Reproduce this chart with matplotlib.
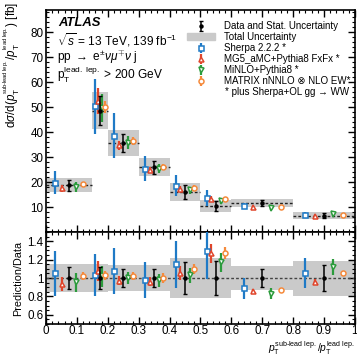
import numpy as np
import matplotlib
matplotlib.use('Agg')
import matplotlib.pyplot as plt
from matplotlib.patches import Patch
from matplotlib.ticker import MultipleLocator, FixedLocator, FixedFormatter

plt.rcParams['font.family'] = ['Liberation Sans', 'DejaVu Sans']
plt.rcParams['mathtext.fontset'] = 'custom'
plt.rcParams['mathtext.rm'] = 'Liberation Sans'
plt.rcParams['mathtext.it'] = 'Liberation Sans:italic'
plt.rcParams['mathtext.bf'] = 'Liberation Sans:bold'

# bin edges of pT(sub-lead)/pT(lead)
edges = [0.0, 0.15, 0.2, 0.3, 0.4, 0.5, 0.6, 0.8, 1.0]

# measured cross section [fb], stat. and total relative uncertainty
data = [18.8, 48.7, 35.8, 26.0, 16.2, 10.5, 11.7, 6.6]
stat_rel = [0.12, 0.12, 0.10, 0.10, 0.17, 0.18, 0.10, 0.14]
tot_rel = [0.15, 0.15, 0.145, 0.14, 0.22, 0.22, 0.13, 0.19]

# prediction / data and relative prediction uncertainty
sherpa_ratio = [1.05, 1.035, 1.08, 0.975, 1.15, 1.29, 0.89, 1.055]
sherpa_err = [0.23, 0.22, 0.23, 0.20, 0.22, 0.23, 0.13, 0.15]
mg5_ratio = [0.935, 1.075, 0.97, 0.96, 1.055, 1.27, 0.86, 0.96]
mg5_err = [0.08, 0.10, 0.05, 0.05, 0.07, 0.08, 0.03, 0.03]
minlo_ratio = [0.955, 1.02, 1.0, 0.975, 1.03, 1.17, 0.83, 1.12]
minlo_err = [0.11, 0.11, 0.07, 0.07, 0.08, 0.09, 0.07, 0.08]
matrix_ratio = [1.02, 1.03, 1.02, 1.0, 1.1, 1.27, 0.87, 1.05]
matrix_err = [0.04, 0.05, 0.04, 0.05, 0.05, 0.05, 0.03, 0.02]

edges = np.array(edges)
lo, wid = edges[:-1], np.diff(edges)
data = np.array(data)

preds = [
    ('Sherpa 2.2.2 *', sherpa_ratio, sherpa_err, 's', '#1f7ac6', 0.2),
    ('MG5_aMC+Pythia8 FxFx *', mg5_ratio, mg5_err, '^', '#e0452b', 0.35),
    ('MiNLO+Pythia8 *', minlo_ratio, minlo_err, 'v', '#2b9b3c', 0.65),
    ('MATRIX nNNLO \u2297 NLO EW*', matrix_ratio, matrix_err, 'o', '#f58a3c', 0.8),
]

fig = plt.figure(figsize=(3.57, 3.57), dpi=100)
ax = fig.add_axes([0.129, 0.35, 0.865, 0.622])
rx = fig.add_axes([0.129, 0.0924, 0.865, 0.2576], sharex=ax)

gray = '#cacaca'
fs = 8.4
lfs = 7.0

# total uncertainty bands
ax.bar(lo, 2 * data * np.array(tot_rel), width=wid, bottom=data * (1 - np.array(tot_rel)),
       align='edge', color=gray, lw=0, zorder=1)
rx.bar(lo, 2 * np.array(tot_rel), width=wid, bottom=1 - np.array(tot_rel),
       align='edge', color=gray, lw=0, zorder=1)
ax.hlines(data, lo, edges[1:], colors='#222222', linestyles=(0, (2, 1.5)), lw=1, zorder=2)
rx.axhline(1, color='#444444', ls=(0, (2, 1.5)), lw=1, zorder=2)

xc = lo + 0.5 * wid
hdata = ax.errorbar(xc, data, yerr=data * np.array(stat_rel), fmt='o', ms=2.2, color='k',
                    elinewidth=1.1, capsize=1.5, capthick=1.0, zorder=5)
rx.errorbar(xc, np.ones_like(xc), yerr=stat_rel, fmt='o', ms=2.2, color='k',
            elinewidth=1.1, capsize=1.5, capthick=1.0, zorder=5)

handles = [hdata, Patch(color=gray)]
labels = ['Data and Stat. Uncertainty', 'Total Uncertainty']
for name, r, e, m, c, f in preds:
    r = np.array(r)
    e = np.array(e)
    x = lo + f * wid
    h = ax.errorbar(x, data * r, yerr=data * r * e, fmt=m, ms=3.6, mfc='white', mec=c,
                    mew=1.1, color=c, elinewidth=1.6, zorder=4)
    rx.errorbar(x, r, yerr=r * e, fmt=m, ms=3.6, mfc='white', mec=c,
                mew=1.1, color=c, elinewidth=1.6, zorder=4)
    handles.append(h)
    labels.append(name)

ax.legend(handles, labels, loc='upper left', bbox_to_anchor=(0.456, 0.95),
          frameon=False, fontsize=lfs, handlelength=2.9, handletextpad=0.9,
          labelspacing=0.11, handleheight=0.7, borderaxespad=0, borderpad=0)
ax.text(0.58, 0.632, '* plus Sherpa+OL gg \u2192 WW', transform=ax.transAxes,
        fontsize=lfs, va='center', ha='left')

ax.text(0.039, 0.941, 'ATLAS', transform=ax.transAxes, fontsize=9.4,
        fontweight='bold', fontstyle='italic', va='center')
ax.text(0.037, 0.865, r'$\sqrt{s}$ = 13 TeV, 139 fb$^{-1}$', transform=ax.transAxes,
        fontsize=8.6, va='center')
ax.text(0.037, 0.786, r'pp $\rightarrow$ e$^{\pm}\nu\mu^{\mp}\nu$ j', transform=ax.transAxes,
        fontsize=8.6, va='center')
ax.text(0.037, 0.708, r'p$_{\mathrm{T}}^{\mathrm{lead.\ lep.}}$ > 200 GeV',
        transform=ax.transAxes, fontsize=8.6, va='center')

ax.set_xlim(0, 1)
ax.set_ylim(0, 89)
rx.set_ylim(0.5, 1.5)

ptsub = r'\it{p}_{\mathrm{T}}^{{}^{\mathrm{sub\text{-}lead\ lep.}}}'
ptlead = r'\it{p}_{\mathrm{T}}^{{}^{\mathrm{lead\ lep.}}}'
ax.set_ylabel(r'd$\sigma$/d($' + ptsub + '/' + ptlead + '$) [fb]', fontsize=8.4, loc='top')
ax.yaxis.set_label_coords(-0.078, 1.036)
rx.set_ylabel('Prediction/Data', fontsize=7.8)
rx.yaxis.set_label_coords(-0.075, 0.5)
rx.set_xlabel(r'$\it{p}_{\mathrm{T}}^{\mathrm{sub\text{-}lead\ lep.}}/\it{p}_{\mathrm{T}}^{\mathrm{lead\ lep.}}$',
              fontsize=7.4, loc='right')
rx.xaxis.set_label_coords(1.0, -0.165)

ax.yaxis.set_major_locator(FixedLocator([10, 20, 30, 40, 50, 60, 70, 80]))
ax.yaxis.set_minor_locator(MultipleLocator(2))
rx.yaxis.set_major_locator(FixedLocator([0.6, 0.8, 1.0, 1.2, 1.4]))
rx.yaxis.set_major_formatter(FixedFormatter(['0.6', '0.8', '1', '1.2', '1.4']))
rx.yaxis.set_minor_locator(MultipleLocator(0.05))
xt = np.round(np.arange(0, 1.01, 0.1), 1)
rx.xaxis.set_major_locator(FixedLocator(xt))
rx.xaxis.set_major_formatter(FixedFormatter(['0'] + ['%.1f' % v for v in xt[1:-1]] + ['1']))
rx.xaxis.set_minor_locator(MultipleLocator(0.02))
plt.setp(ax.get_xticklabels(), visible=False)

for a in (ax, rx):
    a.tick_params(which='both', direction='in', top=True, right=True, labelsize=fs, pad=2)
    a.tick_params(which='major', length=5, width=1)
    a.tick_params(which='minor', length=2.5, width=0.8)
    for s in a.spines.values():
        s.set_linewidth(1.2)
rx.tick_params(axis='x', which='both', pad=1)

fig.savefig('out.png', dpi=100)
